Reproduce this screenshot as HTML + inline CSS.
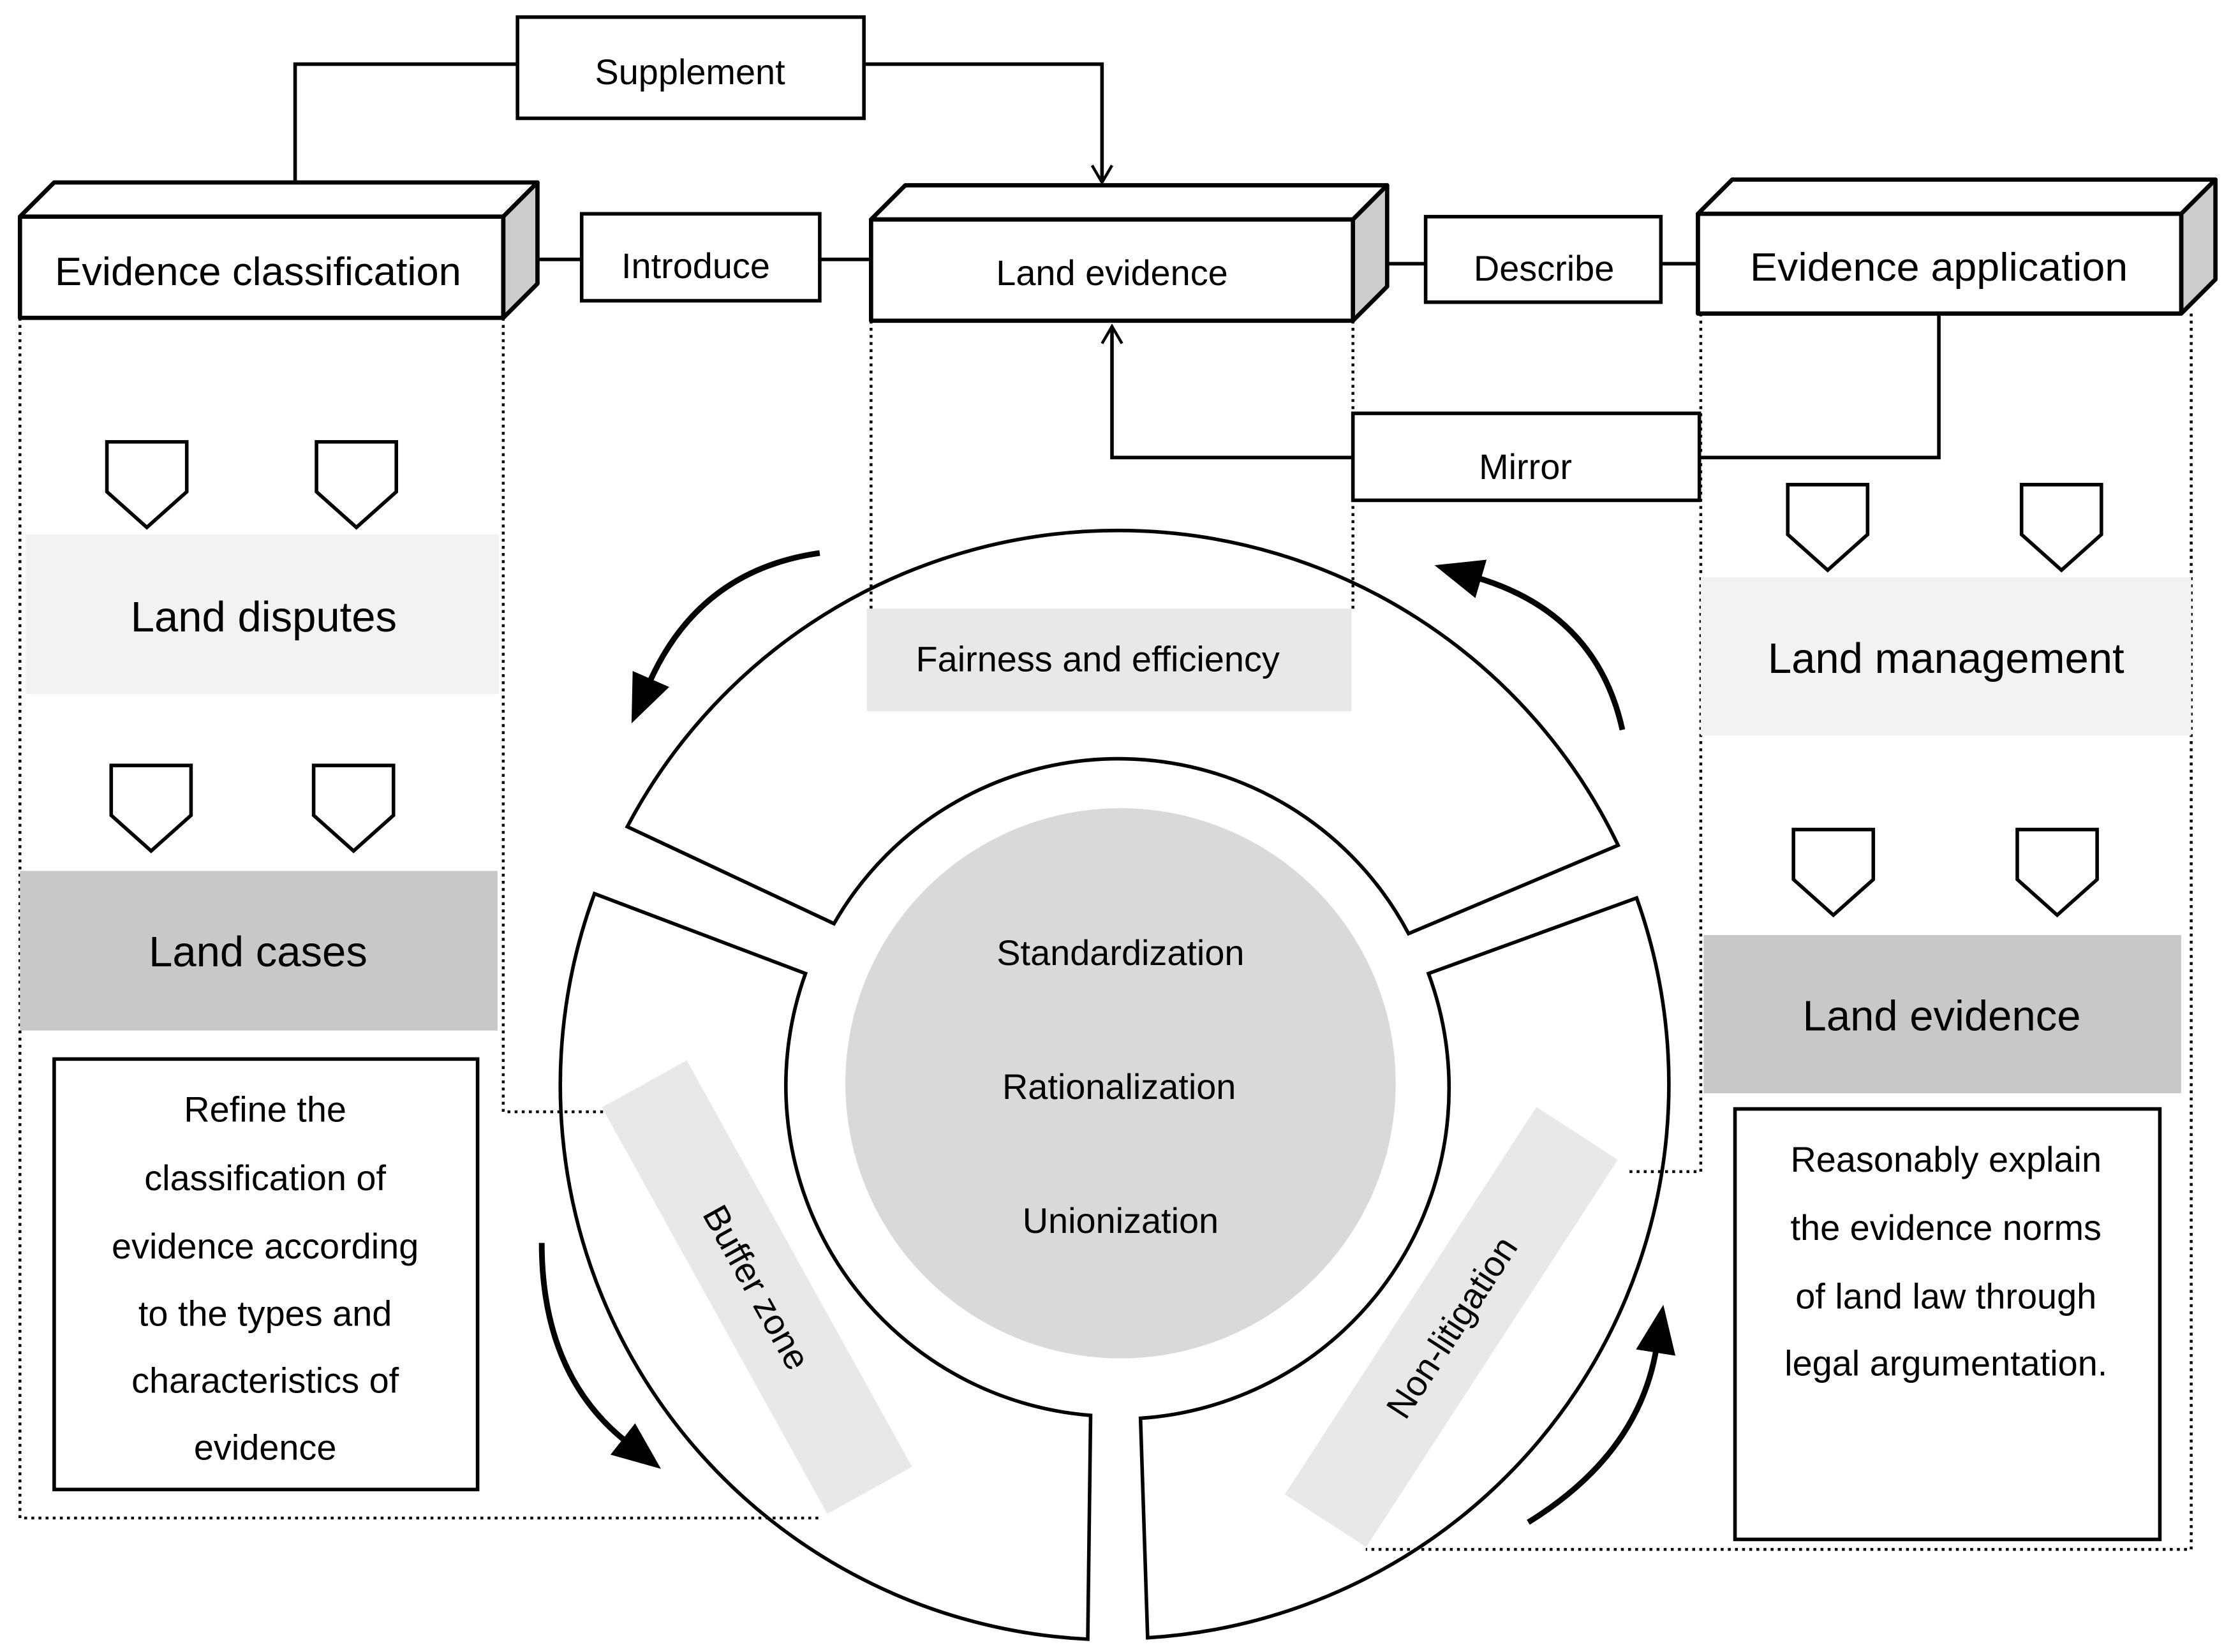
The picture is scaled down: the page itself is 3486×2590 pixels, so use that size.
<!DOCTYPE html>
<html><head><meta charset="utf-8"><style>html,body{margin:0;padding:0;background:#fff}svg{display:block}</style></head><body>
<svg xmlns="http://www.w3.org/2000/svg" width="3486" height="2590" viewBox="0 0 1560 1159" preserveAspectRatio="none" font-family="Liberation Sans, Arial, sans-serif">
<defs>
<marker id="oa" markerWidth="16" markerHeight="16" refX="14" refY="8" orient="auto" markerUnits="userSpaceOnUse"><path d="M2,1 L14,8 L2,15" fill="none" stroke="#000" stroke-width="2"/></marker>
<marker id="fa" markerWidth="40" markerHeight="40" refX="4" refY="16" orient="auto" markerUnits="userSpaceOnUse"><path d="M0,2 L34,16 L0,30 Z" fill="#000"/></marker>
</defs>
<rect width="1560" height="1159" fill="#fff"/>
<!-- dotted lines -->
<g fill="none" stroke="#000" stroke-width="2" stroke-dasharray="2,3">
<path d="M14,223 V1065 H577"/>
<path d="M353,223 V780 H425"/>
<path d="M611,225 V428 M949,225 V428"/>
<path d="M1193,220 V822 H1140"/>
<path d="M1537,220 V1087 H958"/>
</g>
<!-- connectors -->
<g fill="none" stroke="#000" stroke-width="2.5">
<path d="M207,128 V45 H363"/>
<path d="M606,45 H773 V128" marker-end="url(#oa)"/>
<path d="M353,182 H408 M575,182 H611 M973,185 H1000 M1165,185 H1191"/>
<path d="M1360,220 V321 H1192"/>
<path d="M949,321 H780 V229" marker-end="url(#oa)"/>
</g>
<!-- Supplement -->
<rect x="363" y="12" width="243" height="71" fill="#fff" stroke="#000" stroke-width="2.5"/>
<text x="484" y="59" font-size="25" text-anchor="middle">Supplement</text>
<rect x="408" y="150" width="167" height="61" fill="#fff" stroke="#000" stroke-width="2.5"/>
<text x="488" y="195" font-size="25" text-anchor="middle">Introduce</text>
<rect x="1000" y="152" width="165" height="60" fill="#fff" stroke="#000" stroke-width="2.5"/>
<text x="1083" y="197" font-size="25" text-anchor="middle">Describe</text>
<rect x="949" y="290" width="243" height="61" fill="#fff" stroke="#000" stroke-width="2.5"/>
<text x="1070" y="336" font-size="25" text-anchor="middle">Mirror</text>
<!-- 3D boxes -->
<g stroke="#000" stroke-width="3" stroke-linejoin="round">
<path d="M14,152 L38,128 L377,128 L353,152 Z" fill="#fff"/>
<path d="M353,152 L377,128 L377,199 L353,223 Z" fill="#ccc"/>
<rect x="14" y="152" width="339" height="71" fill="#fff"/>
<path d="M611,154 L635,130 L973,130 L949,154 Z" fill="#fff"/>
<path d="M949,154 L973,130 L973,201 L949,225 Z" fill="#ccc"/>
<rect x="611" y="154" width="338" height="71" fill="#fff"/>
<path d="M1191,150 L1215,126 L1554,126 L1530,150 Z" fill="#fff"/>
<path d="M1530,150 L1554,126 L1554,196 L1530,220 Z" fill="#ccc"/>
<rect x="1191" y="150" width="339" height="70" fill="#fff"/>
</g>
<text x="181" y="200" font-size="28" text-anchor="middle" textLength="285" lengthAdjust="spacingAndGlyphs">Evidence classification</text>
<text x="780" y="200" font-size="25" text-anchor="middle">Land evidence</text>
<text x="1360" y="197" font-size="28" text-anchor="middle" textLength="265" lengthAdjust="spacingAndGlyphs">Evidence application</text>
<!-- shields -->
<g fill="#fff" stroke="#000" stroke-width="2.5">
<path d="M75,310 H131 V345 L103,370 L75,345 Z"/>
<path d="M222,310 H278 V345 L250,370 L222,345 Z"/>
<path d="M78,537 H134 V572 L106,597 L78,572 Z"/>
<path d="M220,537 H276 V572 L248,597 L220,572 Z"/>
<path d="M1254,340 H1310 V375 L1282,400 L1254,375 Z"/>
<path d="M1418,340 H1474 V375 L1446,400 L1418,375 Z"/>
<path d="M1258,582 H1314 V617 L1286,642 L1258,617 Z"/>
<path d="M1415,582 H1471 V617 L1443,642 L1415,617 Z"/>
</g>
<!-- bands -->
<rect x="18" y="375" width="332" height="112" fill="#f2f2f2"/>
<text x="185" y="443" font-size="30" text-anchor="middle">Land disputes</text>
<rect x="14" y="611" width="335" height="112" fill="#c8c8c8"/>
<text x="181" y="678" font-size="30" text-anchor="middle">Land cases</text>
<rect x="1193" y="405" width="344" height="111" fill="#f2f2f2"/>
<text x="1365" y="472" font-size="30" text-anchor="middle">Land management</text>
<rect x="1195" y="656" width="335" height="111" fill="#c8c8c8"/>
<text x="1362" y="723" font-size="30" text-anchor="middle">Land evidence</text>
<!-- text boxes -->
<rect x="38" y="743" width="297" height="302" fill="#fff" stroke="#000" stroke-width="2.5"/>
<g font-size="25" text-anchor="middle">
<text x="186" y="787">Refine the</text>
<text x="186" y="835">classification of</text>
<text x="186" y="883">evidence according</text>
<text x="186" y="930">to the types and</text>
<text x="186" y="977">characteristics of</text>
<text x="186" y="1024">evidence</text>
</g>
<rect x="1217" y="778" width="298" height="302" fill="#fff" stroke="#000" stroke-width="2.5"/>
<g font-size="25" text-anchor="middle">
<text x="1365" y="822">Reasonably explain</text>
<text x="1365" y="870">the evidence norms</text>
<text x="1365" y="918">of land law through</text>
<text x="1365" y="965">legal argumentation.</text>
</g>
<!-- circle -->
<circle cx="786" cy="760" r="193" fill="#d9d9d9"/>
<rect x="608" y="427" width="340" height="72" fill="#e8e8e8"/>
<g transform="translate(531,903) rotate(61)"><rect x="-163" y="-34" width="326" height="68" fill="#e8e8e8"/><text x="0" y="9" font-size="25" text-anchor="middle">Buffer zone</text></g>
<g transform="translate(1018,931) rotate(-57)"><rect x="-162" y="-34" width="324" height="68" fill="#e8e8e8"/><text x="0" y="9" font-size="25" text-anchor="middle">Non-litigation</text></g>
<g fill="none" stroke="#000" stroke-width="2.5" stroke-linejoin="miter">
<path d="M440,580 A389,389 0 0 1 1135,593 L988,655 A230,230 0 0 0 585,648 Z"/>
<path d="M417,627 A389,389 0 0 0 763,1150 L765,993 A232,232 0 0 1 565,683 Z"/>
<path d="M1148,630 A389,389 0 0 1 805,1149 L800,995 A232,232 0 0 0 1002,683 Z"/>
</g>
<text x="770" y="471" font-size="25" text-anchor="middle">Fairness and efficiency</text>
<g font-size="25" text-anchor="middle">
<text x="786" y="677">Standardization</text>
<text x="785" y="771">Rationalization</text>
<text x="786" y="865">Unionization</text>
</g>
<!-- curved arrows -->
<g fill="none" stroke="#000" stroke-width="4">
<path d="M575,388 Q490,400 455,480" marker-end="url(#fa)"/>
<path d="M1138,512 Q1120,430 1035,405" marker-end="url(#fa)"/>
<path d="M380,872 Q380,965 440,1012" marker-end="url(#fa)"/>
<path d="M1072,1068 Q1150,1020 1162,945" marker-end="url(#fa)"/>
</g>
</svg>
</body></html>
